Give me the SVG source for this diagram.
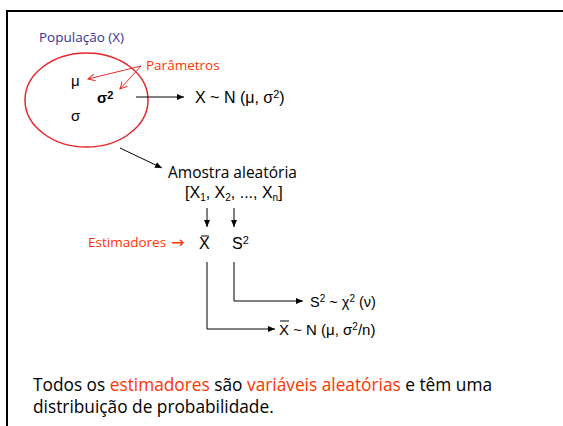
<svg xmlns="http://www.w3.org/2000/svg" width="563" height="426" viewBox="0 0 563 426">
<defs>
<style>
.t{font-family:"Liberation Sans","DejaVu Sans",sans-serif;fill:#000}
.c{font-family:"Open Sans","Liberation Sans",sans-serif}
.red{fill:#FF3300}
.ln{stroke:#000;stroke-width:1;fill:none}
.rln{stroke:#E03030;stroke-width:1;fill:none}
</style>
<marker id="ah" markerWidth="8" markerHeight="8" refX="7" refY="4" orient="auto" markerUnits="userSpaceOnUse">
<path d="M0,1 L7,4 L0,7 Z" fill="#000"/>
</marker>
<marker id="rah" markerWidth="8" markerHeight="8" refX="7" refY="4" orient="auto" markerUnits="userSpaceOnUse">
<path d="M0,0.5 L7,4 L0,7.5" fill="none" stroke="#E03030" stroke-width="1"/>
</marker>
</defs>
<rect width="563" height="426" fill="#fff"/>
<path d="M7,430 L7,11 L570,11" stroke="#000" stroke-width="2" fill="none"/>

<g id="populacao">
<text class="t c" x="39" y="42" font-size="13.5" style="fill:#333399">População (X)</text>
<ellipse cx="86.5" cy="100" rx="61.5" ry="47" fill="none" stroke="#E8262A" stroke-width="1.5"/>
<text class="t" x="71" y="86" font-size="15">μ</text>
<text class="t" x="97" y="103" font-size="15" font-weight="bold">σ<tspan font-size="11" dy="-4">2</tspan></text>
<text class="t" x="71" y="121" font-size="15">σ</text>
</g>
<g id="parametros">
<text class="t c red" x="146" y="70" font-size="13.5">Parâmetros</text>
</g>
<g id="dist-x">
<text class="t" x="195" y="103" font-size="16">X ~ N (μ, σ<tspan font-size="11" dy="-5">2</tspan><tspan dy="5">)</tspan></text>
</g>
<g id="amostra">
<text class="t c" x="168" y="178" font-size="15.5">Amostra aleatória</text>
<text class="t" x="185" y="198" font-size="16">[X<tspan font-size="10" dy="3">1</tspan><tspan dy="-3">, X</tspan><tspan font-size="10" dy="3">2</tspan><tspan dy="-3">, ..., X</tspan><tspan font-size="10" dy="3">n</tspan><tspan dy="-3">]</tspan></text>
</g>
<g id="estimadores">
<text class="t c red" x="88" y="247" font-size="13.5">Estimadores</text>
<text x="171" y="248" font-size="16" style="font-family:'DejaVu Sans',sans-serif;fill:#FF3300">→</text>
<text class="t" x="199" y="249" font-size="16">X</text>
<line x1="201" y1="236" x2="209" y2="236" stroke="#000" stroke-width="1"/>
<text class="t" x="232" y="249" font-size="16">S<tspan font-size="11" dy="-5">2</tspan></text>
</g>
<g id="dist-s2">
<text class="t" x="310" y="307" font-size="14.5">S<tspan font-size="10" dy="-5">2</tspan><tspan dy="5"> ~ χ</tspan><tspan font-size="10" dy="-5">2</tspan><tspan dy="5"> (ν)</tspan></text>
</g>
<g id="dist-xbar">
<text class="t" x="279" y="335" font-size="15">X  ~ N (μ, σ<tspan font-size="10" dy="-5">2</tspan><tspan dy="5">/n)</tspan></text>
<line x1="280" y1="321" x2="289" y2="321" stroke="#000" stroke-width="1"/>
</g>
<g id="nota">
<text class="t c" x="33" y="391" font-size="17.3">Todos os <tspan class="red">estimadores</tspan> são <tspan class="red">variáveis aleatórias</tspan> e têm uma</text>
<text class="t c" x="33" y="413" font-size="17.3">distribuição de probabilidade.</text>
</g>

<g id="connectors">
<line class="rln" x1="141" y1="66" x2="88" y2="79" marker-end="url(#rah)"/>
<line class="rln" x1="141" y1="66" x2="120" y2="89" marker-end="url(#rah)"/>
<line class="ln" x1="136" y1="97" x2="184" y2="97" marker-end="url(#ah)"/>
<line class="ln" x1="120" y1="148" x2="162" y2="168" marker-end="url(#ah)"/>
<line class="ln" x1="207" y1="208" x2="207" y2="227" marker-end="url(#ah)"/>
<line class="ln" x1="234" y1="208" x2="234" y2="227" marker-end="url(#ah)"/>
<path class="ln" d="M207,262 L207,329 L275,329" marker-end="url(#ah)"/>
<path class="ln" d="M234,262 L234,301 L303,301" marker-end="url(#ah)"/>
</g>
</svg>
